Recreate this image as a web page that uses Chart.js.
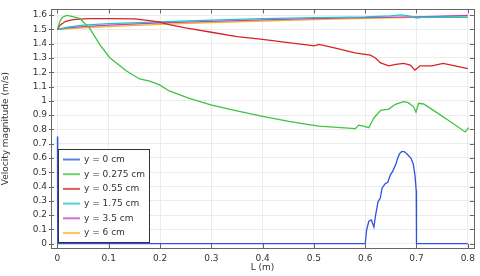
<!DOCTYPE html>
<html>
<head>
<meta charset="utf-8">
<script src="https://cdn.jsdelivr.net/npm/chart.js@4.4.1/dist/chart.umd.min.js"></script>
<style>
    html, body { margin: 0; padding: 0; background: #ffffff; }
    #wrap { width: 480px; height: 276px; }
</style>
</head>
<body>
<div id="wrap"><canvas id="grafico" width="480" height="276"></canvas></div>
<script>
/* Valores (L em m, velocidade em m/s) */
const nomesSeries = ['y = 0 cm', 'y = 0.275 cm', 'y = 0.55 cm', 'y = 1.75 cm', 'y = 3.5 cm', 'y = 6 cm'];
const coresSeries = ['#2f52e0', '#3fc43f', '#d62424', '#1fc4c8', '#c43fc4', '#f5b81c'];

const lAzul = [0, 0.0005, 0.6, 0.6026, 0.607, 0.612, 0.617, 0.62, 0.625, 0.6295, 0.633, 0.639, 0.644, 0.649, 0.654, 0.66, 0.6635, 0.667, 0.671, 0.676, 0.681, 0.689, 0.6935, 0.697, 0.6995, 0.7, 0.8];
const vAzul = [0.75, 0, 0, 0.093, 0.157, 0.166, 0.116, 0.195, 0.293, 0.32, 0.39, 0.42, 0.43, 0.48, 0.51, 0.56, 0.6, 0.63, 0.645, 0.645, 0.63, 0.6, 0.56, 0.48, 0.37, 0, 0];

const lVerde = [0, 0.005, 0.01, 0.018, 0.03, 0.044, 0.063, 0.0825, 0.102, 0.134, 0.16, 0.18, 0.199, 0.218, 0.257, 0.299, 0.341, 0.4, 0.451, 0.49, 0.51, 0.581, 0.587, 0.597, 0.607, 0.617, 0.63, 0.646, 0.659, 0.675, 0.684, 0.694, 0.699, 0.704, 0.714, 0.736, 0.762, 0.795, 0.802];
const vVerde = [1.5, 1.56, 1.585, 1.598, 1.59, 1.575, 1.507, 1.393, 1.302, 1.21, 1.153, 1.138, 1.112, 1.069, 1.017, 0.971, 0.937, 0.892, 0.857, 0.834, 0.823, 0.805, 0.83, 0.823, 0.812, 0.88, 0.933, 0.942, 0.976, 0.994, 0.987, 0.96, 0.921, 0.983, 0.978, 0.926, 0.864, 0.782, 0.812];

const lVermelho = [0, 0.005, 0.015, 0.03, 0.06, 0.1, 0.15, 0.18, 0.2, 0.22, 0.25, 0.3, 0.35, 0.4, 0.45, 0.49, 0.5, 0.51, 0.54, 0.58, 0.61, 0.62, 0.63, 0.646, 0.66, 0.675, 0.688, 0.697, 0.707, 0.73, 0.752, 0.775, 0.8];
const vVermelho = [1.5, 1.53, 1.555, 1.568, 1.575, 1.576, 1.574, 1.562, 1.55, 1.532, 1.51, 1.48, 1.45, 1.43, 1.407, 1.39, 1.385, 1.395, 1.37, 1.335, 1.32, 1.3, 1.265, 1.245, 1.255, 1.262, 1.25, 1.215, 1.245, 1.245, 1.262, 1.245, 1.225];

const lCiano = [0, 0.02, 0.05, 0.1, 0.2, 0.3, 0.4, 0.5, 0.6, 0.65, 0.67, 0.685, 0.7, 0.71, 0.8];
const vCiano = [1.5, 1.515, 1.53, 1.54, 1.553, 1.565, 1.575, 1.582, 1.588, 1.595, 1.602, 1.595, 1.58, 1.585, 1.585];

const lMagenta = [0, 0.02, 0.05, 0.1, 0.2, 0.3, 0.4, 0.5, 0.6, 0.7, 0.8];
const vMagenta = [1.5, 1.51, 1.52, 1.53, 1.545, 1.556, 1.566, 1.575, 1.582, 1.588, 1.598];

const lAmarelo = [0, 0.05, 0.1, 0.2, 0.3, 0.4, 0.5, 0.6, 0.7, 0.8];
const vAmarelo = [1.5, 1.51, 1.52, 1.535, 1.548, 1.558, 1.568, 1.577, 1.585, 1.595];

const ticksX = [0, 0.1, 0.2, 0.3, 0.4, 0.5, 0.6, 0.7, 0.8];
const ticksY = [0, 0.1, 0.2, 0.3, 0.4, 0.5, 0.6, 0.7, 0.8, 0.9, 1, 1.1, 1.2, 1.3, 1.4, 1.5, 1.6];

const fonte = 'DejaVu Sans';

/* Junta os pares (L, v) de cada série */
function pontos(ls, vs) {
    return ls.map(function (l, i) { return { x: l, y: vs[i] }; });
}

const series = [
    pontos(lAzul, vAzul),
    pontos(lVerde, vVerde),
    pontos(lVermelho, vVermelho),
    pontos(lCiano, vCiano),
    pontos(lMagenta, vMagenta),
    pontos(lAmarelo, vAmarelo)
];

/* Moldura da área do gráfico e marcas de escala para dentro */
const pluginMoldura = {
    id: 'moldura',
    afterDatasetsDraw: function (chart) {
        const ctx = chart.ctx;
        const a = chart.chartArea;
        const sx = chart.scales.x;
        const sy = chart.scales.y;
        ctx.save();
        ctx.strokeStyle = '#666666';
        ctx.lineWidth = 1;
        ctx.beginPath();
        ticksX.forEach(function (t) {
            const px = Math.round(sx.getPixelForValue(t)) + 0.5;
            ctx.moveTo(px, a.bottom); ctx.lineTo(px, a.bottom - 4);
            ctx.moveTo(px, a.top); ctx.lineTo(px, a.top + 4);
        });
        ticksY.forEach(function (t) {
            const py = Math.round(sy.getPixelForValue(t)) + 0.5;
            ctx.moveTo(a.left - 2, py); ctx.lineTo(a.left + 3, py);
            ctx.moveTo(a.right, py); ctx.lineTo(a.right - 4, py);
        });
        ctx.stroke();
        ctx.strokeRect(Math.round(a.left) + 0.5, Math.round(a.top) + 0.5, Math.round(a.right - a.left), Math.round(a.bottom - a.top));
        ctx.restore();
    }
};

/* Legenda desenhada dentro da área do gráfico, em baixo à esquerda */
const pluginLegenda = {
    id: 'legendaInterior',
    afterDraw: function (chart) {
        const ctx = chart.ctx;
        const x0 = 58.5, y0 = 149.5, w = 91, h = 93;
        ctx.save();
        ctx.fillStyle = '#ffffff';
        ctx.fillRect(x0, y0, w, h);
        ctx.strokeStyle = '#333333';
        ctx.lineWidth = 1;
        ctx.strokeRect(x0, y0, w, h);
        ctx.font = '9px "' + fonte + '"';
        ctx.textBaseline = 'middle';
        chart.data.datasets.forEach(function (ds, i) {
            const y = 159.5 + i * 14.7;
            ctx.strokeStyle = ds.borderColor;
            ctx.globalAlpha = 0.75;
            ctx.lineWidth = 2;
            ctx.beginPath();
            ctx.moveTo(63, y); ctx.lineTo(80, y);
            ctx.stroke();
            ctx.globalAlpha = 1;
            ctx.fillStyle = '#333333';
            ctx.fillText(ds.label, 84, y);
        });
        ctx.restore();
    }
};

function formatarTick(v) {
    return parseFloat(v.toFixed(2)).toString();
}

new Chart(document.getElementById('grafico'), {
    type: 'line',
    data: {
        datasets: series.map(function (s, i) {
            return {
                label: nomesSeries[i],
                data: s,
                borderColor: coresSeries[i],
                borderWidth: 1.3,
                pointRadius: 0,
                tension: 0,
                fill: false
            };
        })
    },
    options: {
        responsive: false,
        animation: false,
        events: [],
        layout: { padding: { top: 4, right: 4, left: 0, bottom: 0 } },
        plugins: {
            legend: { display: false },
            tooltip: { enabled: false }
        },
        scales: {
            x: {
                type: 'linear',
                min: -0.0126,
                max: 0.812,
                afterBuildTicks: function (s) { s.ticks = ticksX.map(function (v) { return { value: v }; }); },
                afterFit: function (s) { s.height = 28; },
                grid: { color: '#ececec', drawTicks: false },
                border: { display: false },
                ticks: {
                    padding: 5,
                    color: '#333333',
                    font: { family: fonte, size: 9 },
                    callback: formatarTick
                },
                title: {
                    display: true,
                    text: 'L (m)',
                    color: '#333333',
                    font: { family: fonte, size: 9 },
                    padding: { top: 0, bottom: 3 }
                }
            },
            y: {
                min: -0.03,
                max: 1.64,
                afterBuildTicks: function (s) { s.ticks = ticksY.map(function (v) { return { value: v }; }); },
                afterFit: function (s) { s.width = 51; },
                grid: { color: '#ececec', drawTicks: false },
                border: { display: false },
                ticks: {
                    padding: 4,
                    color: '#333333',
                    font: { family: fonte, size: 9 },
                    callback: formatarTick
                },
                title: {
                    display: true,
                    text: 'Velocity magnitude (m/s)',
                    color: '#333333',
                    font: { family: fonte, size: 9 },
                    padding: { top: 0, bottom: 0 }
                }
            }
        }
    },
    plugins: [pluginMoldura, pluginLegenda]
});
</script>
</body>
</html>
